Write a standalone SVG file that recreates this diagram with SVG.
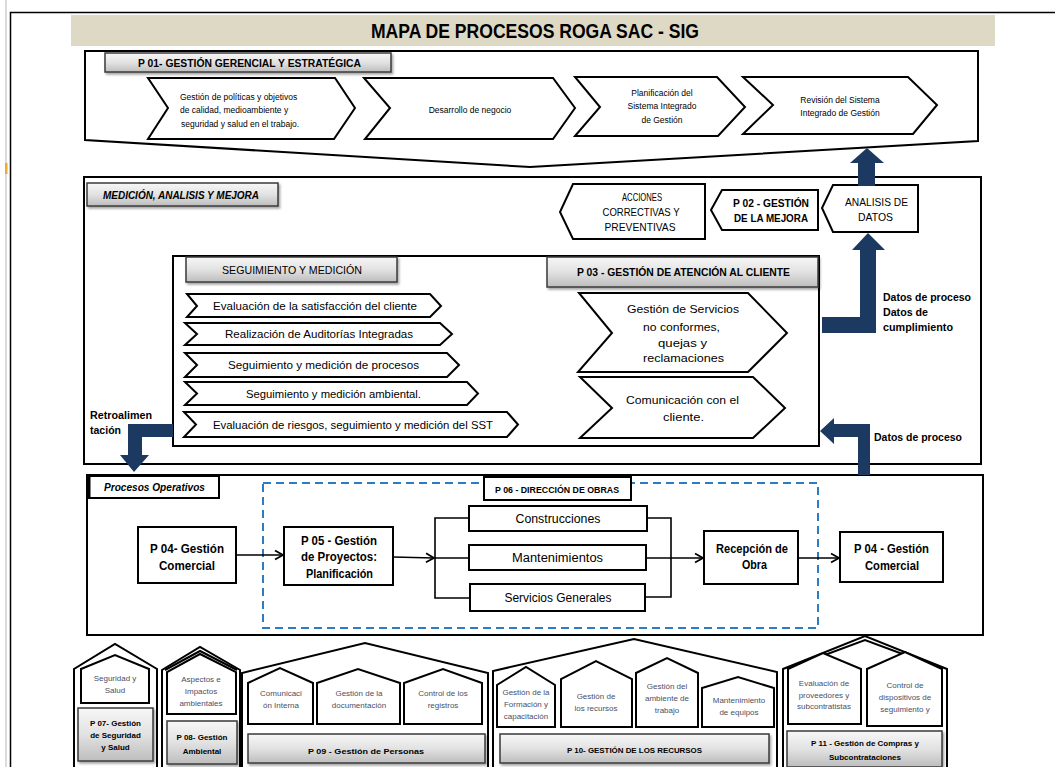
<svg xmlns="http://www.w3.org/2000/svg" width="1055" height="767" viewBox="0 0 1055 767">
<defs>
<linearGradient id="gg" x1="0" y1="0" x2="0" y2="1">
<stop offset="0" stop-color="#f7f7f7"/><stop offset="0.5" stop-color="#e2e2e2"/><stop offset="1" stop-color="#bdbdbd"/>
</linearGradient>
<filter id="sh" x="-10%" y="-20%" width="130%" height="160%">
<feDropShadow dx="1.5" dy="2" stdDeviation="1" flood-color="#000" flood-opacity="0.35"/>
</filter>
<marker id="ah" markerWidth="12" markerHeight="12" refX="10" refY="6" orient="auto" markerUnits="userSpaceOnUse">
<path d="M2,1.5 L10,6 L2,10.5" fill="none" stroke="#000" stroke-width="1.8"/>
</marker>
</defs>
<style>
text{font-family:"Liberation Sans",Arial,sans-serif;fill:#000}
.c{text-anchor:middle}
.b{font-weight:bold}
.i{font-style:italic}
.ln{fill:none;stroke:#000;stroke-width:2}
.wh{fill:#fff;stroke:#000;stroke-width:2}
.gl{fill:url(#gg);stroke:#3a3a3a;stroke-width:1.5;filter:url(#sh)}
.nv{fill:#1c3961;stroke:none}
.con{fill:none;stroke:#000;stroke-width:1.6}
.t8{font-size:8.5px}
.h{font-size:8px;fill:#4a4f66}
.hb{font-size:8px;font-weight:bold}
.m{font-size:11px}
</style>
<rect width="1055" height="767" fill="#fff"/>
<line x1="6" y1="0" x2="6" y2="767" stroke="#cfcfcf" stroke-width="1.5"/>
<rect x="5" y="163" width="2.5" height="11" fill="#f0a830"/>
<polyline points="10.5,767 10.5,12.5 1055,12.5" fill="none" stroke="#000" stroke-width="1.5"/>

<g id="title">
<rect x="71" y="15" width="924" height="31" fill="#ddd9c4"/>
<text x="535" y="38" class="c b" font-size="20" textLength="328" lengthAdjust="spacingAndGlyphs">MAPA DE PROCESOS ROGA SAC - SIG</text>
</g>

<g id="p01">
<polygon class="wh" points="85,51 978,51 978,141 530,167 85,140"/>
<rect class="gl" x="105" y="53" width="286" height="19"/>
<text x="249.5" y="67" class="c b" font-size="11" textLength="223" lengthAdjust="spacingAndGlyphs">P 01- GESTIÓN GERENCIAL  Y ESTRATÉGICA</text>
</g>
<g id="p01-politicas">
<polygon class="wh" points="148,78 335,78 355,108 334,139 148,139 168,108"/>
<text x="180" y="100" class="t8">Gestión  de políticas  y objetivos</text>
<text x="180" y="113" class="t8">de calidad, medioambiente   y</text>
<text x="181" y="127" class="t8">seguridad  y salud  en  el trabajo.</text>
</g>
<g id="p01-negocio">
<polygon class="wh" points="364,78 553,78 575,108 553,139 365,139 390,108"/>
<text x="470" y="113" class="c t8">Desarrollo  de negocio</text>
</g>
<g id="p01-planificacion">
<polygon class="wh" points="575,77 717,77 745,107 718,136 575,136 600,107"/>
<text x="662" y="96" class="c t8">Planificación   del</text>
<text x="662" y="109" class="c t8">Sistema  Integrado</text>
<text x="662" y="123" class="c t8">de Gestión</text>
</g>
<g id="p01-revision">
<polygon class="wh" points="743,77 908,77 937,105 913,134 743,134 773,105"/>
<text x="840" y="103" class="c t8">Revisión  del Sistema</text>
<text x="840" y="116" class="c t8">Integrado  de Gestión</text>
</g>

<g id="medicion">
<rect class="wh" x="84" y="177" width="897" height="287"/>
<rect class="gl" x="87" y="183" width="191" height="23"/>
<text x="181" y="199" class="c b i" font-size="11" textLength="156" lengthAdjust="spacingAndGlyphs">MEDICIÓN, ANALISIS Y MEJORA</text>
</g>
<g id="acciones">
<polygon class="wh" points="573,184 705,184 705,239 573,239 560,212"/>
<text x="642" y="201" class="c m" textLength="40" lengthAdjust="spacingAndGlyphs">ACCIONES</text>
<text x="641" y="216" class="c m" textLength="77" lengthAdjust="spacingAndGlyphs">CORRECTIVAS Y</text>
<text x="640" y="231" class="c m" textLength="71" lengthAdjust="spacingAndGlyphs">PREVENTIVAS</text>
</g>
<g id="p02">
<polygon class="wh" points="722,190 818,190 818,230 722,230 711,210"/>
<text x="771" y="207" class="c b m" textLength="76" lengthAdjust="spacingAndGlyphs">P 02 - GESTIÓN</text>
<text x="771" y="222" class="c b m" textLength="74" lengthAdjust="spacingAndGlyphs">DE LA MEJORA</text>
</g>
<g id="analisis">
<polygon class="wh" points="833,185 918,185 918,232 833,232 822,208"/>
<text x="876.5" y="206" class="c m" textLength="63" lengthAdjust="spacingAndGlyphs">ANALISIS DE</text>
<text x="875.5" y="221" class="c m" textLength="35" lengthAdjust="spacingAndGlyphs">DATOS</text>
</g>

<g id="seguimiento">
<rect class="wh" x="173" y="256" width="646" height="190"/>
<rect class="gl" x="186" y="257" width="211" height="25"/>
<text x="292" y="274" class="c m" textLength="140" lengthAdjust="spacingAndGlyphs">SEGUIMIENTO Y MEDICIÓN</text>
</g>
<g id="seg-1">
<polygon class="wh" points="187,294 430,294 441,306 430,317 187,317 197,306" stroke-width="1.6"/>
<text x="315" y="310" class="c" font-size="10.5" textLength="204" lengthAdjust="spacingAndGlyphs">Evaluación de la satisfacción del cliente</text>
</g>
<g id="seg-2">
<polygon class="wh" points="185,323 440,323 452,334 440,345 185,345 197,334" stroke-width="1.6"/>
<text x="319" y="338" class="c" font-size="10.5" textLength="188" lengthAdjust="spacingAndGlyphs">Realización de Auditorías Integradas</text>
</g>
<g id="seg-3">
<polygon class="wh" points="185,353 447,353 459,365 447,377 185,377 197,365" stroke-width="1.6"/>
<text x="323.5" y="369" class="c" font-size="10.5" textLength="191" lengthAdjust="spacingAndGlyphs">Seguimiento y medición de procesos</text>
</g>
<g id="seg-4">
<polygon class="wh" points="185,382 467,382 478,393.5 467,405 185,405 197,393.5" stroke-width="1.6"/>
<text x="333.5" y="398" class="c" font-size="10.5" textLength="175" lengthAdjust="spacingAndGlyphs">Seguimiento y medición ambiental.</text>
</g>
<g id="seg-5">
<polygon class="wh" points="184,412 507,412 518,424.5 507,437 184,437 196,424.5" stroke-width="1.6"/>
<text x="353" y="429" class="c" font-size="10.5" textLength="280" lengthAdjust="spacingAndGlyphs">Evaluación de riesgos, seguimiento y medición del SST</text>
</g>

<g id="p03">
<rect class="gl" x="547" y="257" width="271" height="30"/>
<text x="683.5" y="276" class="c b m" textLength="213" lengthAdjust="spacingAndGlyphs">P 03 - GESTIÓN DE ATENCIÓN  AL CLIENTE</text>
</g>
<g id="p03-servicios">
<polygon class="wh" points="579,293 748,293 787,333 748,372 578,372 612,333"/>
<text x="683" y="313" class="c m" textLength="112" lengthAdjust="spacingAndGlyphs">Gestión de Servicios</text>
<text x="681.5" y="331" class="c m" textLength="77" lengthAdjust="spacingAndGlyphs">no conformes,</text>
<text x="682.5" y="347" class="c m" textLength="49" lengthAdjust="spacingAndGlyphs">quejas y</text>
<text x="683.5" y="362" class="c m" textLength="81" lengthAdjust="spacingAndGlyphs">reclamaciones</text>
</g>
<g id="p03-comunicacion">
<polygon class="wh" points="580,377 753,377 785,408 753,438 580,438 612,408"/>
<text x="682.5" y="404" class="c m" textLength="113" lengthAdjust="spacingAndGlyphs">Comunicación con el</text>
<text x="683.5" y="421" class="c m" textLength="41" lengthAdjust="spacingAndGlyphs">cliente.</text>
</g>

<g id="labels">
<text x="883" y="301" class="b" font-size="10.5" textLength="88" lengthAdjust="spacingAndGlyphs">Datos de proceso</text>
<text x="883" y="316" class="b" font-size="10.5" textLength="45" lengthAdjust="spacingAndGlyphs">Datos de</text>
<text x="883" y="331" class="b" font-size="10.5" textLength="70" lengthAdjust="spacingAndGlyphs">cumplimiento</text>
<text x="874" y="441" class="b" font-size="10.5" textLength="88" lengthAdjust="spacingAndGlyphs">Datos de proceso</text>
<text x="90" y="419" class="b" font-size="10.5" textLength="62" lengthAdjust="spacingAndGlyphs">Retroalimen</text>
<text x="90" y="434" class="b" font-size="10.5" textLength="31" lengthAdjust="spacingAndGlyphs">tación</text>
</g>

<g id="operativos">
<rect class="wh" x="87" y="475" width="896" height="160"/>
<rect x="263" y="483" width="555" height="145" fill="none" stroke="#2e7bc4" stroke-width="2" stroke-dasharray="8,5"/>
<rect x="88" y="476" width="131" height="22" fill="#fff" stroke="#000" stroke-width="2"/>
<line x1="89" y1="476" x2="89" y2="498" stroke="#000" stroke-width="3"/>
<text x="154.5" y="491" class="c b i" font-size="11" textLength="101" lengthAdjust="spacingAndGlyphs">Procesos Operativos</text>
<rect x="484" y="477" width="147" height="23" fill="#fff" stroke="#000" stroke-width="2"/>
<text x="557" y="492.5" class="c b" font-size="8.5" textLength="124" lengthAdjust="spacingAndGlyphs">P 06 - DIRECCIÓN DE OBRAS</text>
</g>
<g id="p04-a">
<rect class="wh" x="138" y="527" width="98" height="56"/>
<text x="187" y="553" class="c b" font-size="12.5" textLength="74" lengthAdjust="spacingAndGlyphs">P 04- Gestión</text>
<text x="187" y="570" class="c b" font-size="12.5" textLength="56" lengthAdjust="spacingAndGlyphs">Comercial</text>
</g>
<g id="p05">
<rect class="wh" x="284" y="527" width="109" height="58"/>
<text x="339" y="545" class="c b" font-size="12.5" textLength="76" lengthAdjust="spacingAndGlyphs">P 05 - Gestión</text>
<text x="339" y="561" class="c b" font-size="12.5" textLength="76" lengthAdjust="spacingAndGlyphs">de Proyectos:</text>
<text x="339.5" y="578" class="c b" font-size="12.5" textLength="67" lengthAdjust="spacingAndGlyphs">Planificación</text>
</g>
<g id="construcciones">
<rect class="wh" x="469" y="506" width="178" height="25"/>
<text x="558" y="523" class="c" font-size="12" textLength="85" lengthAdjust="spacingAndGlyphs">Construcciones</text>
</g>
<g id="mantenimientos">
<rect class="wh" x="469" y="545" width="177" height="25"/>
<text x="557.5" y="562" class="c" font-size="12" textLength="91" lengthAdjust="spacingAndGlyphs">Mantenimientos</text>
</g>
<g id="servicios">
<rect class="wh" x="470" y="584" width="175" height="27"/>
<text x="558" y="602" class="c" font-size="12" textLength="107" lengthAdjust="spacingAndGlyphs">Servicios Generales</text>
</g>
<g id="recepcion">
<rect class="wh" x="704" y="531" width="94" height="53"/>
<text x="752" y="553" class="c b" font-size="12.5" textLength="72" lengthAdjust="spacingAndGlyphs">Recepción de</text>
<text x="754.5" y="569" class="c b" font-size="12.5" textLength="25" lengthAdjust="spacingAndGlyphs">Obra</text>
</g>
<g id="p04-b">
<rect class="wh" x="840" y="532" width="103" height="50"/>
<text x="891.5" y="553" class="c b" font-size="12.5" textLength="75" lengthAdjust="spacingAndGlyphs">P 04 - Gestión</text>
<text x="892" y="570" class="c b" font-size="12.5" textLength="54" lengthAdjust="spacingAndGlyphs">Comercial</text>
</g>

<g id="connectors">
<polygon class="nv" points="858,186 858,163 850,163 867,148 884,163 875,163 875,186"/>
<polygon class="nv" points="822,317 860,317 860,250 852,250 868,233 885,250 876,250 876,333 822,333"/>
<polygon class="nv" points="820,431 834,418 834,424 870,424 870,475 858,475 858,437 834,437 834,444"/>
<polygon class="nv" points="173,424 128,424 128,455 120,455 134,472 149,455 142,455 142,437 173,437"/>
<line class="con" x1="236" y1="555" x2="283" y2="555" marker-end="url(#ah)"/>
<line class="con" x1="393" y1="557" x2="434" y2="558" marker-end="url(#ah)"/>
<polyline class="con" points="469,518 435,518 435,598 470,598"/>
<line class="con" x1="435" y1="558" x2="469" y2="558"/>
<polyline class="con" points="647,518 671,518 671,597 645,597"/>
<line class="con" x1="646" y1="558" x2="703" y2="558" marker-end="url(#ah)"/>
<line class="con" x1="798" y1="558" x2="839" y2="558" marker-end="url(#ah)"/>
</g>

<g id="p07">
<polyline class="ln" points="74,767 74,669 115,644 157,669 157,767"/>
<polygon class="wh" points="81,703 81,669 115,655 149,669 149,703"/>
<text x="115" y="681" class="c h">Seguridad  y</text>
<text x="115" y="693" class="c h">Salud</text>
<rect class="gl" x="78" y="708" width="75" height="53"/>
<text x="115.5" y="726" class="c hb">P 07- Gestión</text>
<text x="115.5" y="738" class="c hb">de Seguridad</text>
<text x="115.5" y="750" class="c hb">y Salud</text>
</g>
<g id="p08">
<polyline class="ln" points="162,767 162,670 200,647 240,670 240,767"/>
<polyline class="ln" points="165,670 200,651 237,670"/>
<polygon class="wh" points="167,714 167,672 200,654 236,672 236,714"/>
<text x="201" y="682" class="c h">Aspectos e</text>
<text x="201" y="694" class="c h">Impactos</text>
<text x="201" y="706" class="c h">ambientales</text>
<rect class="gl" x="167" y="721" width="70" height="43"/>
<text x="202" y="740" class="c hb">P 08- Gestión</text>
<text x="202" y="754" class="c hb">Ambiental</text>
</g>
<g id="p09">
<polyline class="ln" points="242,767 242,673 365,643 488,673 488,767"/>
<polygon class="wh" points="248,724 248,683 280,668 313,683 313,724"/>
<text x="281" y="696" class="c h">Comunicaci</text>
<text x="281" y="708" class="c h">ón Interna</text>
<polygon class="wh" points="317,724 317,683 358,669 400,683 400,724"/>
<text x="359" y="696" class="c h">Gestión de la</text>
<text x="359" y="708" class="c h">documentación</text>
<polygon class="wh" points="404,724 404,683 443,669 482,683 482,724"/>
<text x="443" y="696" class="c h">Control de los</text>
<text x="443" y="708" class="c h">registros</text>
<rect class="gl" x="248" y="734" width="237" height="29"/>
<text x="366" y="754" class="c hb" textLength="116" lengthAdjust="spacingAndGlyphs">P 09 - Gestión  de Personas</text>
</g>
<g id="p10">
<polyline class="ln" points="493,767 493,671 634,639 777,672 777,767"/>
<polygon class="wh" points="497,727 497,685 526,667 555,685 555,727"/>
<text x="526" y="695" class="c h">Gestión de la</text>
<text x="526" y="707" class="c h">Formación y</text>
<text x="526" y="719" class="c h">capacitación</text>
<polygon class="wh" points="561,727 561,679 596,661 632,679 632,727"/>
<text x="596" y="699" class="c h">Gestión de</text>
<text x="596" y="711" class="c h">los recursos</text>
<polygon class="wh" points="636,727 636,673 667,658 698,673 698,727"/>
<text x="667" y="689" class="c h">Gestión del</text>
<text x="667" y="701" class="c h">ambiente de</text>
<text x="667" y="713" class="c h">trabajo</text>
<polygon class="wh" points="702,727 702,688 738,677 774,688 774,727"/>
<text x="739" y="703" class="c h">Mantenimiento</text>
<text x="739" y="715" class="c h">de equipos</text>
<rect class="gl" x="500" y="734" width="269" height="29"/>
<text x="634.5" y="753" class="c hb" textLength="135" lengthAdjust="spacingAndGlyphs">P 10- GESTIÓN DE LOS RECURSOS</text>
</g>
<g id="p11">
<polyline class="ln" points="783,767 783,669 865,636 947,669 947,767"/>
<polyline class="ln" points="787,669 865,640 943,669"/>
<polygon class="wh" points="788,724 788,669 823,653 861,669 861,724"/>
<text x="824" y="686" class="c h">Evaluación  de</text>
<text x="824" y="698" class="c h">proveedores  y</text>
<text x="824" y="709" class="c h">subcontratistas</text>
<polygon class="wh" points="867,726 867,669 905,652 942,669 942,726"/>
<text x="905" y="688" class="c h">Control de</text>
<text x="905" y="700" class="c h">dispositivos de</text>
<text x="905" y="712" class="c h">seguimiento  y</text>
<rect class="gl" x="787" y="731" width="155" height="36"/>
<text x="865" y="746" class="c hb">P 11 - Gestión  de Compras  y</text>
<text x="865" y="760" class="c hb">Subcontrataciones</text>
</g>
</svg>
